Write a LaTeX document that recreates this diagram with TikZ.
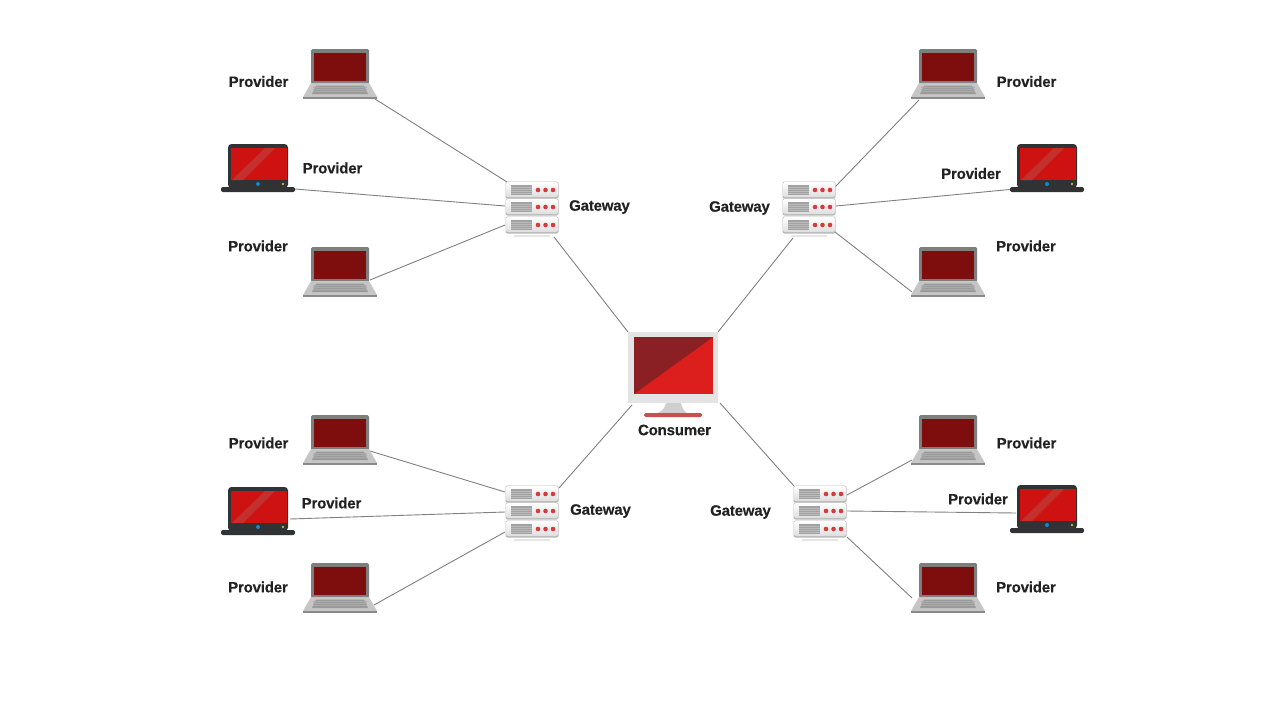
\documentclass[tikz,border=0pt]{standalone}
\usepackage{fontspec}
\setmainfont{Liberation Sans}[BoldFeatures={FakeBold=0.25,LetterSpace=-1.2}]
\usetikzlibrary{calc}
\definecolor{inkdark}{HTML}{222222}
\definecolor{bezelgrey}{HTML}{7E7E7E}
\definecolor{deckgrey}{HTML}{C6C6C6}
\definecolor{keygrey}{HTML}{9A9A9A}
\definecolor{keyline}{HTML}{ABABAB}
\definecolor{lipgrey}{HTML}{8A8A8A}
\definecolor{maroon}{HTML}{7E0E0E}
\definecolor{brightred}{HTML}{CE1212}
\definecolor{stripered}{HTML}{C4302E}
\definecolor{carbon}{HTML}{303234}
\definecolor{rackface}{HTML}{DEDEDE}
\definecolor{rackedge}{HTML}{B8B8B8}
\definecolor{rackpatch}{HTML}{A2A2A2}
\definecolor{rackline}{HTML}{BBBBBB}
\definecolor{ledred}{HTML}{D83A38}
\definecolor{linkgrey}{HTML}{808080}
\definecolor{monframe}{HTML}{E4E4E4}
\definecolor{monbright}{HTML}{DC1E1C}
\definecolor{mondark}{HTML}{8A2024}
\definecolor{monstand}{HTML}{CFCFCF}
\definecolor{monfoot}{HTML}{C85050}
\tikzset{
  x=1pt, y=-1pt,
  link/.style={draw=linkgrey, line width=0.9pt},
  tag/.style={font=\fontsize{15}{16}\selectfont\bfseries, text=inkdark, inner sep=0pt},
  anchorbox/.style={inner sep=0pt, minimum width=#1, minimum height=50pt},
  pics/greylaptop/.style={code={
    \fill[bezelgrey, rounded corners=1.5pt] (-29,-25) rectangle (29,10);
    \fill[maroon] (-26,-21) rectangle (26,7);
    \fill[deckgrey] (-29,9) -- (29,9) -- (37,23) -- (-37,23) -- cycle;
    \fill[keygrey] (-24,11.5) -- (24,11.5) -- (28,20) -- (-28,20) -- cycle;
    \foreach \ky in {13.5,15.5,17.5}
      \draw[keyline, line width=0.5pt] (-27,\ky) -- (27,\ky);
    \fill[lipgrey] (-37,23) rectangle (37,25);
  }},
  pics/blacklaptop/.style={code={
    \fill[carbon, rounded corners=3.5pt] (-30,-24) rectangle (30,20);
    \fill[brightred] (-27.5,-20) rectangle (28.5,12);
    \fill[stripered] (7,-20) -- (17,-20) -- (-15,12) -- (-26,12) -- cycle;
    \fill[carbon, rounded corners=2pt] (-37,19) rectangle (37,24);
    \fill[cyan!70!blue] (0,16) circle (2);
    \fill[yellow!70!black] (25,16) circle (1.4);
  }},
  pics/rackunit/.style={code={
    \fill[rackedge, rounded corners=2pt] (-26.5,-8.5) rectangle (26.5,8.5);
    \shade[top color=white, bottom color=rackface, rounded corners=2pt] (-26,-8) rectangle (26,7);
    \fill[rackpatch] (-21,-5) rectangle (0,5);
    \foreach \ky in {-3,-1,1,3}
      \draw[rackline, line width=0.4pt] (-21,\ky) -- (0,\ky);
    \foreach \lx in {6,13.5,21}
      \fill[ledred] (\lx,0) circle (2.3);
  }},
  pics/rack/.style={code={
    \fill[gray!20] (-18,27) rectangle (18,29);
    \pic at (0,17) {rackunit};
    \pic at (0,-1) {rackunit};
    \pic at (0,-18) {rackunit};
  }},
}
\begin{document}
\begin{tikzpicture}
\useasboundingbox (0,0) rectangle (1280,720);

% device anchors
\foreach \nm/\px/\py in {p1/340/74,p3/340/272,p4/340/440,p6/340/588,
                         q1/948/74,q3/948/272,q4/948/440,q6/948/588}
  \node[anchorbox=74pt] (\nm) at (\px,\py) {};
\foreach \nm/\px/\py in {p2/258/168,p5/258/511,q2/1047/168,q5/1047/509}
  \node[anchorbox=74pt] (\nm) at (\px,\py) {};
\foreach \nm/\px/\py in {g1/532/208,g2/809/208,g3/532/512,g4/820/512}
  \node[anchorbox=53pt] (\nm) at (\px,\py) {};
\node[inner sep=0pt, minimum width=90pt, minimum height=71pt] (mon) at (673,367.5) {};

% connectors
\draw[link] ([shift={(35,25)}]p1.center) -- ([shift={(-25,-26)}]g1.center);
\draw[link] ([shift={(37,21)}]p2.center) -- ([shift={(-27,-2)}]g1.center);
\draw[link] ([shift={(30,8)}]p3.center) -- ([shift={(-27,17)}]g1.center);
\draw[link] ([shift={(22,29)}]g1.center) -- ([shift={(-45,-35.5)}]mon.center);
\draw[link] ([shift={(-29,26)}]q1.center) -- ([shift={(26,-21)}]g2.center);
\draw[link] ([shift={(-32,21)}]q2.center) -- ([shift={(27,-2)}]g2.center);
\draw[link] ([shift={(-36,20)}]q3.center) -- ([shift={(26,24)}]g2.center);
\draw[link] ([shift={(-16,30)}]g2.center) -- ([shift={(45,-35.5)}]mon.center);
\draw[link] ([shift={(30,11)}]p4.center) -- ([shift={(-27,-20)}]g3.center);
\draw[link] ([shift={(32,8)}]p5.center) -- ([shift={(-27,0)}]g3.center);
\draw[link] ([shift={(34,17)}]p6.center) -- ([shift={(-27,20)}]g3.center);
\draw[link] ([shift={(27,-24)}]g3.center) -- ([shift={(-41,37.5)}]mon.center);
\draw[link] ([shift={(-36,20)}]q4.center) -- ([shift={(27,-17)}]g4.center);
\draw[link] ([shift={(-31,4)}]q5.center) -- ([shift={(27,-1)}]g4.center);
\draw[link] ([shift={(-36,10)}]q6.center) -- ([shift={(27,25)}]g4.center);
\draw[link] ([shift={(-26,-26)}]g4.center) -- ([shift={(47,35.5)}]mon.center);

% laptops and racks
\foreach \px/\py in {340/74,340/272,340/440,340/588,948/74,948/272,948/440,948/588}
  \pic at (\px,\py) {greylaptop};
\foreach \px/\py in {258/168,258/511,1047/168,1047/509}
  \pic at (\px,\py) {blacklaptop};
\foreach \px/\py in {532/208,809/208,532/512,820/512}
  \pic at (\px,\py) {rack};

% consumer monitor
\fill[monframe] (628,332) rectangle (718,403);
\fill[monbright] (634,337) rectangle (713,394);
\fill[mondark] (634,337) -- (713,337) -- (634,394) -- cycle;
\fill[monstand] (666,403) -- (681,403) .. controls (682,408) and (684,411) .. (687,413) -- (658,413) .. controls (662,411) and (665,408) .. (666,403) -- cycle;
\fill[monfoot, rounded corners=1.5pt] (644,413) rectangle (702,417);

% labels
\foreach \nm/\px/\py in {l1/258.5/81.5,l2/332.5/168,l3/258/246,l4/258.5/443,l5/331.5/503,l6/258/587,
                         r1/1026.5/81.5,r2/971/173.5,r3/1026/246,r4/1026.5/443,r5/978/499,r6/1026/587}
  \node[tag] (\nm) at (\px,\py) {Provider};
\node[tag] (t1) at (599.5,207) {Gateway};
\node[tag] (t2) at (739.5,208) {Gateway};
\node[tag] (t3) at (600.5,511) {Gateway};
\node[tag] (t4) at (740.5,512) {Gateway};
\node[tag] (t5) at (674.5,430) {Consumer};
\end{tikzpicture}
\end{document}
